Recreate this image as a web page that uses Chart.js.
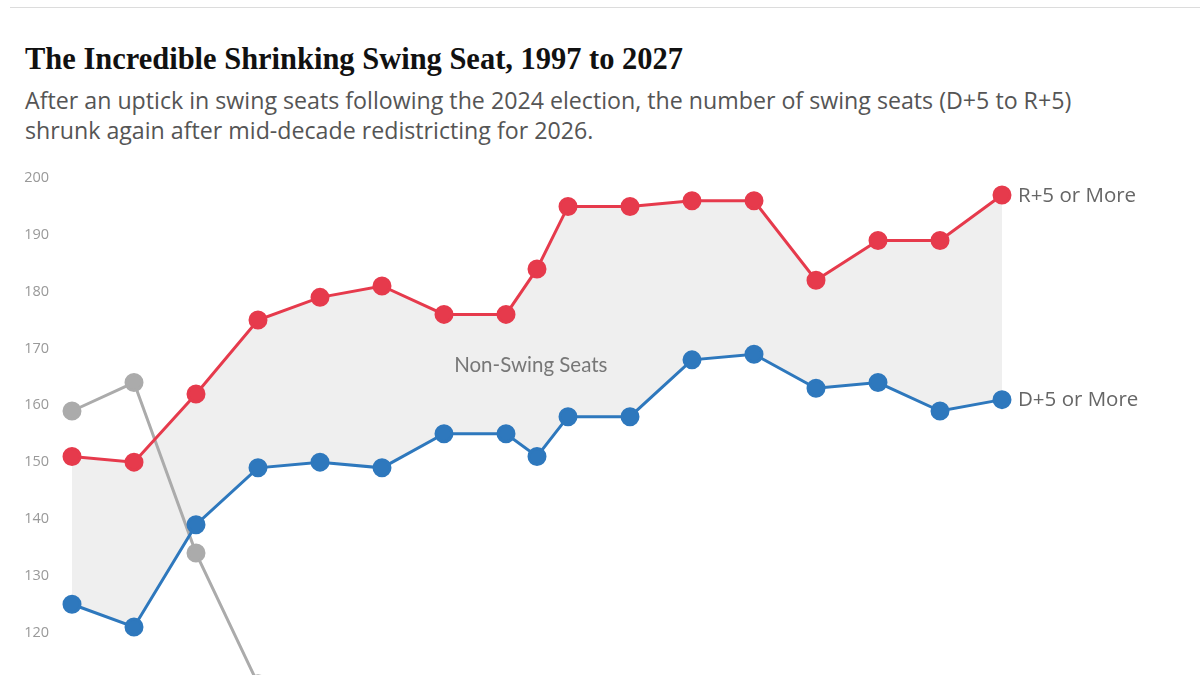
<!DOCTYPE html>
<html>
<head>
<meta charset="utf-8">
<script src="https://cdn.jsdelivr.net/npm/chart.js@4/dist/chart.umd.min.js"></script>
<style>
  html, body { margin: 0; padding: 0; background: #fff; width: 1200px; height: 675px; overflow: hidden; }
  #rule { position: absolute; left: 10px; top: 7px; width: 1190px; height: 1px; background: #dcdcdc; }
  #title { position: absolute; left: 25px; top: 39px; font-family: "Liberation Serif", serif; font-weight: bold; font-size: 30.5px; line-height: 40px; color: #111; white-space: nowrap; transform-origin: 0 0; }
  #subtitle { position: absolute; left: 25px; top: 85px; font-family: "Open Sans", sans-serif; font-size: 23.2px; line-height: 30px; color: #555; white-space: nowrap; }
  #wrap { position: absolute; left: 0; top: 0; }
</style>
</head>
<body>
<div id="rule"></div>
<div id="title">The Incredible Shrinking Swing Seat, 1997 to 2027</div>
<div id="subtitle">After an uptick in swing seats following the 2024 election, the number of swing seats (D+5 to R+5)<br>shrunk again after mid-decade redistricting for 2026.</div>
<div id="wrap"><canvas id="c" width="1200" height="1119"></canvas></div>
<script>
const years = [1997, 1999, 2001, 2003, 2005, 2007, 2009, 2011, 2012, 2013, 2015, 2017, 2019, 2021, 2023, 2025, 2027];
const rPlus5 = [151, 150, 162, 175, 179, 181, 176, 176, 184, 195, 195, 196, 196, 182, 189, 189, 197];
const dPlus5 = [125, 121, 139, 149, 150, 149, 155, 155, 151, 158, 158, 168, 169, 163, 164, 159, 161];
const swing  = [159, 164, 134, 111, null, null, null, null, null, null, null, null, null, null, null, null, null];
const yTicks = [200, 190, 180, 170, 160, 150, 140, 130, 120];
const labels = { r: "R+5 or More", d: "D+5 or More", mid: "Non-Swing Seats" };

const RED = "#e63a4c", BLUE = "#2e78bd", GRAY = "#ababab", FILL = "#efefef";

// fit title width to reference
(function () {
  const t = document.getElementById("title");
  const w = t.getBoundingClientRect().width;
  const target = 658;
  if (w > 0) t.style.transform = "scaleX(" + (target / w) + ")";
})();

function pts(arr) { return years.map((y, i) => ({ x: y, y: arr[i] })); }

const labelPlugin = {
  id: "labelPlugin",
  afterDatasetsDraw(chart) {
    const ctx = chart.ctx, xs = chart.scales.x, ys = chart.scales.y;
    const last = years.length - 1;
    ctx.save();
    ctx.font = '20.5px "Open Sans", sans-serif';
    ctx.fillStyle = "#666";
    ctx.textAlign = "left";
    ctx.textBaseline = "middle";
    const lx = xs.getPixelForValue(years[last]) + 16;
    ctx.fillText(labels.r, lx, ys.getPixelForValue(rPlus5[last]) + 1);
    ctx.fillText(labels.d, lx, ys.getPixelForValue(dPlus5[last]) + 1);
    ctx.font = '20.5px Lato, sans-serif';
    ctx.fillStyle = "#777";
    ctx.textAlign = "center";
    ctx.fillText(labels.mid, xs.getPixelForValue(2011.8), ys.getPixelForValue(167.1));
    ctx.restore();
  }
};

new Chart(document.getElementById("c"), {
  type: "line",
  data: {
    datasets: [
      { label: "R+5 or More", data: pts(rPlus5), borderColor: RED, backgroundColor: RED, pointBackgroundColor: RED, pointBorderColor: RED, borderWidth: 3, pointRadius: 8, fill: false, order: 1 },
      { label: "D+5 or More", data: pts(dPlus5), borderColor: BLUE, backgroundColor: FILL, pointBackgroundColor: BLUE, pointBorderColor: BLUE, borderWidth: 3, pointRadius: 8, fill: { target: 0 }, order: 2 },
      { label: "Swing", data: pts(swing), borderColor: GRAY, backgroundColor: GRAY, pointBackgroundColor: GRAY, pointBorderColor: GRAY, borderWidth: 3, pointRadius: 8, fill: false, order: 3, spanGaps: false }
    ]
  },
  options: {
    responsive: false,
    animation: false,
    events: [],
    layout: { padding: { left: 0, right: 198, top: 178, bottom: 14 } },
    plugins: { legend: { display: false }, tooltip: { enabled: false }, filler: { drawTime: "beforeDatasetsDraw" } },
    elements: { line: { tension: 0 }, point: { borderWidth: 0 } },
    datasets: { line: { clip: false } },
    scales: {
      x: { type: "linear", min: 1997, max: 2027, display: false },
      y: {
        min: 40, max: 200,
        afterFit(s) { s.width = 72; },
        afterBuildTicks(s) { s.ticks = yTicks.map(v => ({ value: v })); },
        grid: { display: false, drawTicks: false },
        border: { display: false },
        ticks: { padding: 23, color: "#999", font: { family: "Open Sans", size: 14.5 } }
      }
    }
  },
  plugins: [labelPlugin]
});
</script>
</body>
</html>
